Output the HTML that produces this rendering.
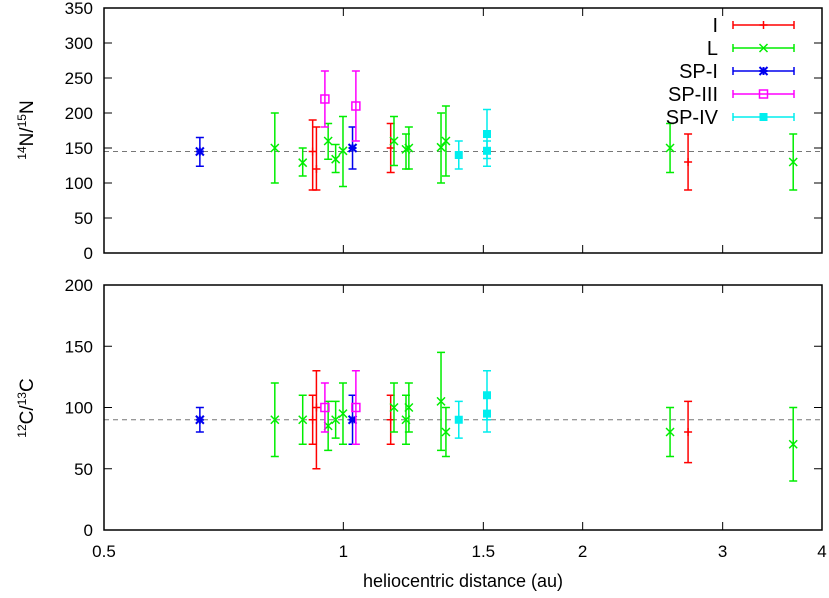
<!DOCTYPE html>
<html><head><meta charset="utf-8"><style>
html,body{margin:0;padding:0;background:#fff;}
svg{display:block;font-family:"Liberation Sans",Helvetica,sans-serif;}
</style></head><body>
<svg id="chart" width="829" height="598" viewBox="0 0 829 598" xmlns="http://www.w3.org/2000/svg"></svg>
<script>
// ---- data ----
const seriesNames = ['I','L','SP-I','SP-III','SP-IV'];
const seriesColors = ['#ff0000','#00ee00','#0000ee','#ff00ff','#00eeee'];
// N ratio (top)
const nX   = [[0.915,0.925,1.147,2.714],[0.82,0.889,0.957,0.978,0.999,1.158,1.199,1.209,1.327,1.346,2.576,3.68],[0.66,1.027],[0.948,1.037],[1.397,1.516,1.516]];
const nVal = [[145,120,150,130],[150,129,160,134,146,160,148,150,151,160,150,130],[145,150],[220,210],[140,170,146]];
const nLo  = [[90,90,115,90],[100,110,134,115,95,125,120,120,100,110,115,90],[124,120],[180,160],[120,135,124]];
const nHi  = [[190,180,185,170],[200,150,185,155,195,195,170,180,200,210,185,170],[165,180],[260,260],[160,205,160]];
// C ratio (bottom)
const cX   = [[0.915,0.925,1.147,2.714],[0.82,0.889,0.957,0.978,0.999,1.158,1.199,1.209,1.327,1.346,2.576,3.68],[0.66,1.027],[0.948,1.037],[1.397,1.516,1.516]];
const cVal = [[90,100,90,80],[90,90,85,90,95,100,90,100,105,80,80,70],[90,90],[100,100],[90,110,95]];
const cLo  = [[70,50,70,55],[60,70,65,75,70,80,70,80,65,60,60,40],[80,70],[80,70],[75,90,80]];
const cHi  = [[110,130,110,105],[120,110,105,105,120,120,110,120,145,100,100,100],[100,110],[120,130],[105,130,110]];
const xTicks = [0.5,1,1.5,2,3,4];
const nTicks = [0,50,100,150,200,250,300,350];
const cTicks = [0,50,100,150,200];
const nRef = 145, cRef = 90;

const NS='http://www.w3.org/2000/svg';
const svg=document.getElementById('chart');
function mk(tag,attrs,parent){const e=document.createElementNS(NS,tag);for(const k in attrs)e.setAttribute(k,attrs[k]);(parent||svg).appendChild(e);return e;}
const L=104,R=822;
const xs=v=>L+(R-L)*Math.log(v/0.5)/Math.log(8);
const panels=[
 {top:8,bot:253,max:350,ticks:nTicks,X:nX,V:nVal,Lo:nLo,Hi:nHi,ref:nRef,name:'n-ratio'},
 {top:285,bot:530,max:200,ticks:cTicks,X:cX,V:cVal,Lo:cLo,Hi:cHi,ref:cRef,name:'c-ratio'}];

function marker(g,k,x,y,c){
  if(k===0){mk('path',{d:`M${x-4},${y}L${x+4},${y}M${x},${y-4}L${x},${y+4}`,stroke:c,'stroke-width':1.5},g);}
  else if(k===1){mk('path',{d:`M${x-4},${y-4}L${x+4},${y+4}M${x-4},${y+4}L${x+4},${y-4}`,stroke:c,'stroke-width':1.5},g);}
  else if(k===2){mk('path',{d:`M${x-4},${y-4}L${x+4},${y+4}M${x-4},${y+4}L${x+4},${y-4}M${x},${y-4}L${x},${y+4}M${x-4},${y}L${x+4},${y}`,stroke:c,'stroke-width':2},g);}
  else if(k===3){mk('rect',{x:x-4,y:y-4,width:8,height:8,fill:'none',stroke:c,'stroke-width':1.5},g);}
  else {mk('rect',{x:x-4,y:y-4,width:8,height:8,fill:c},g);}
}

panels.forEach((p,pi)=>{
  const ys=v=>p.bot-(p.bot-p.top)*v/p.max;
  const g=mk('g',{});
  
  
  const rl=mk('line',{x1:L,x2:R,y1:ys(p.ref),y2:ys(p.ref),stroke:'#777','stroke-width':1,'stroke-dasharray':'5,4'},g);
  
  
  p.ticks.forEach(t=>{
    const y=ys(t);
    mk('line',{x1:L,x2:L+8,y1:y,y2:y,stroke:'#000'},g);
    mk('line',{x1:R,x2:R-8,y1:y,y2:y,stroke:'#000'},g);
    const tx=mk('text',{x:L-11,y:y+6,'text-anchor':'end','font-size':17},g);
    tx.textContent=t;
    
    
  });
  xTicks.forEach(t=>{
    const x=xs(t);
    mk('line',{x1:x,x2:x,y1:p.bot,y2:p.bot-8,stroke:'#000'},g);
    mk('line',{x1:x,x2:x,y1:p.top,y2:p.top+8,stroke:'#000'},g);
    if(pi===1){const tx=mk('text',{x:x,y:557,'text-anchor':'middle','font-size':17},g);tx.textContent=t;
      
      }
  });
  p.X.forEach((arr,k)=>{
    const sg=mk('g',{},g);
    
    
    const c=seriesColors[k];
    arr.forEach((xv,i)=>{
      const x=xs(xv),y=ys(p.V[k][i]),y1=ys(p.Lo[k][i]),y2=ys(p.Hi[k][i]);
      const eb=mk('path',{d:`M${x},${y1}L${x},${y2}M${x-4},${y1}L${x+4},${y1}M${x-4},${y2}L${x+4},${y2}`,stroke:c,'stroke-width':1.5,fill:'none'},sg);
      
      
      marker(sg,k,x,y,c);
    });
  });
  const fr=mk('rect',{x:L,y:p.top,width:R-L,height:p.bot-p.top,fill:'none',stroke:'#000','stroke-width':1.5},g);
  
  
});

const lg=mk('g',{});


seriesNames.forEach((n,k)=>{
  const y=25+23*k,c=seriesColors[k];
  const e=mk('g',{},lg);
  
  
  const t=mk('text',{x:718,y:y+7,'text-anchor':'end','font-size':20},e);t.textContent=n;
  mk('path',{d:`M733,${y}L794,${y}M733,${y-4}L733,${y+4}M794,${y-4}L794,${y+4}`,stroke:c,'stroke-width':1.5},e);
  marker(e,k,763.5,y,c);
});
</script>
<script>
const s=document.getElementById('chart');
const NS2='http://www.w3.org/2000/svg';
function tt(html,attrs,name){const t=document.createElementNS(NS2,'text');for(const k in attrs)t.setAttribute(k,attrs[k]);t.innerHTML=html;
 
 
 s.appendChild(t);}
tt('<tspan font-size="12" dy="-7">14</tspan><tspan dy="7">N/</tspan><tspan font-size="12" dy="-7">15</tspan><tspan dy="7">N</tspan>',{transform:'translate(33,130) rotate(-90)','text-anchor':'middle','font-size':19},'y-axis-title-top');
tt('<tspan font-size="12" dy="-7">12</tspan><tspan dy="7">C/</tspan><tspan font-size="12" dy="-7">13</tspan><tspan dy="7">C</tspan>',{transform:'translate(33,408) rotate(-90)','text-anchor':'middle','font-size':19},'y-axis-title-bottom');
tt('heliocentric distance (au)',{x:463,y:587,'text-anchor':'middle','font-size':18},'x-axis-title');
</script>
</body></html>
